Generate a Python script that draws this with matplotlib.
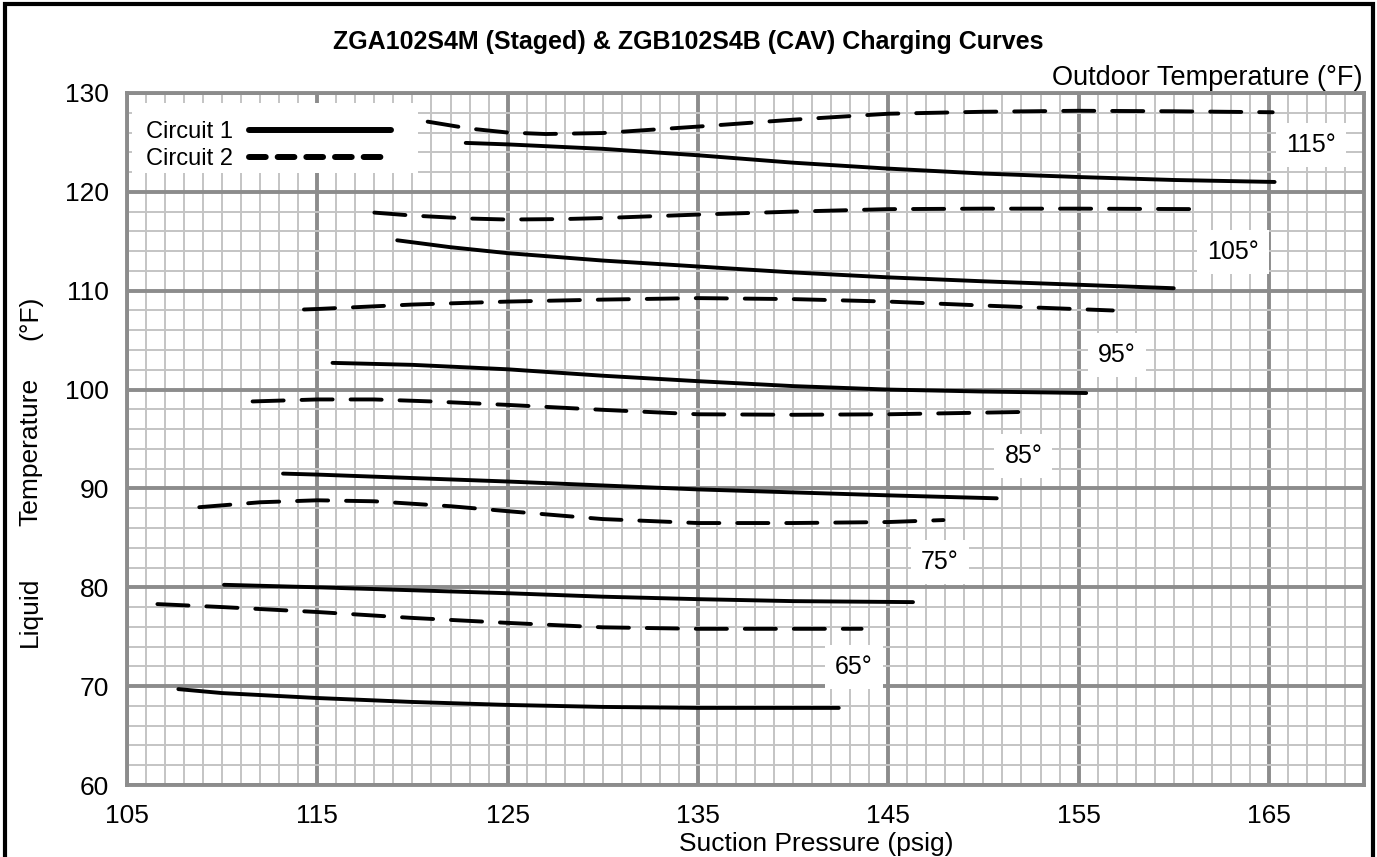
import matplotlib
matplotlib.use('Agg')
import matplotlib.pyplot as plt
from matplotlib.lines import Line2D
from matplotlib.patches import Rectangle
from matplotlib.ticker import MultipleLocator

plt.rcParams['font.family'] = ['Liberation Sans', 'DejaVu Sans']

# values: suction pressure (psig) vs liquid temperature (F)
# circuit 1 (solid)
c1_65_x = [107.7, 110, 115, 120, 125, 130, 135, 142.4]
c1_65_y = [69.7, 69.3, 68.8, 68.4, 68.1, 67.9, 67.8, 67.8]
c1_75_x = [110.1, 115, 120, 125, 130, 135, 140, 146.3]
c1_75_y = [80.25, 80.0, 79.7, 79.4, 79.05, 78.8, 78.6, 78.5]
c1_85_x = [113.2, 115, 120, 125, 130, 135, 140, 145, 150.7]
c1_85_y = [91.5, 91.4, 91.05, 90.7, 90.3, 89.9, 89.6, 89.3, 89.0]
c1_95_x = [115.8, 120, 125, 130, 135, 140, 145, 150, 155.4]
c1_95_y = [102.7, 102.5, 102.05, 101.4, 100.85, 100.35, 100.0, 99.8, 99.65]
c1_105_x = [119.2, 122, 125, 130, 135, 140, 145, 150, 155, 160]
c1_105_y = [115.1, 114.4, 113.8, 113.05, 112.45, 111.85, 111.35, 110.95, 110.6, 110.25]
c1_115_x = [122.8, 125, 130, 135, 140, 145, 150, 155, 160, 165.3]
c1_115_y = [124.95, 124.8, 124.35, 123.7, 122.95, 122.35, 121.85, 121.5, 121.2, 121.0]

# circuit 2 (dashed)
c2_65_x = [106.6, 110, 115, 120, 125, 130, 135, 143.6]
c2_65_y = [78.3, 78.0, 77.5, 76.9, 76.4, 75.95, 75.8, 75.8]
c2_75_x = [108.8, 112, 115, 118, 122, 125, 130, 135, 140, 145, 147.9]
c2_75_y = [88.1, 88.6, 88.8, 88.7, 88.2, 87.7, 86.9, 86.5, 86.5, 86.6, 86.8]
c2_85_x = [111.6, 115, 118, 121, 125, 130, 135, 140, 145, 152.5]
c2_85_y = [98.8, 99.0, 99.0, 98.8, 98.45, 97.95, 97.5, 97.45, 97.5, 97.75]
c2_95_x = [114.3, 115, 120, 125, 130, 135, 140, 145, 150, 156.8]
c2_95_y = [108.1, 108.15, 108.6, 108.9, 109.1, 109.25, 109.15, 108.9, 108.5, 108.0]
c2_105_x = [118, 120, 123, 125, 128, 130, 135, 140, 145, 150, 155, 161.6]
c2_105_y = [117.9, 117.6, 117.3, 117.2, 117.25, 117.35, 117.7, 118.0, 118.25, 118.3, 118.3, 118.25]
c2_115_x = [120.8, 123, 125, 127, 130, 135, 140, 145, 150, 155, 160, 165.2]
c2_115_y = [127.1, 126.4, 126.0, 125.85, 125.95, 126.6, 127.3, 127.9, 128.1, 128.2, 128.15, 128.05]

outdoor_labels = ['65°', '75°', '85°', '95°', '105°', '115°']
x_ticks = [105, 115, 125, 135, 145, 155, 165]
y_ticks = [60, 70, 80, 90, 100, 110, 120, 130]

circuit1 = [(c1_65_x, c1_65_y), (c1_75_x, c1_75_y), (c1_85_x, c1_85_y),
            (c1_95_x, c1_95_y), (c1_105_x, c1_105_y), (c1_115_x, c1_115_y)]
circuit2 = [(c2_65_x, c2_65_y), (c2_75_x, c2_75_y), (c2_85_x, c2_85_y),
            (c2_95_x, c2_95_y), (c2_105_x, c2_105_y), (c2_115_x, c2_115_y)]

# where the outdoor temperature tags sit on the chart
label_pos = [(143.2, 71.9), (147.7, 82.6), (152.1, 93.3),
             (157.0, 103.5), (163.1, 113.9), (167.2, 124.7)]


def main():
  fig = plt.figure(figsize=(13.77, 8.57), dpi=100)
  ax = fig.add_axes([0.0922, 0.084, 0.8984, 0.8075])

  for xs, ys in circuit1:
    ax.plot(xs, ys, color='black', lw=2.8, solid_capstyle='round', solid_joinstyle='round')
  for xs, ys in circuit2:
    ax.plot(xs, ys, color='black', lw=2.8, dashes=(8, 4.6), dash_capstyle='round')

  for lab, (lx, ly) in zip(outdoor_labels, label_pos):
    ax.text(lx, ly, lab, fontsize=18, ha='center', va='center', zorder=4,
            bbox=dict(boxstyle='square,pad=0.4', fc='white', ec='none'))

  ax.set_xlim(105, 170)
  ax.set_ylim(60, 130)
  ax.set_xticks(x_ticks)
  ax.set_yticks(y_ticks)
  ax.xaxis.set_minor_locator(MultipleLocator(1))
  ax.yaxis.set_minor_locator(MultipleLocator(2))
  ax.set_axisbelow(True)
  ax.grid(which='minor', color='#c4c4c4', lw=1.4)
  ax.grid(which='major', color='#8c8c8c', lw=2.8)
  ax.tick_params(which='both', length=0)
  ax.tick_params(axis='x', labelsize=19, pad=14)
  ax.tick_params(axis='y', labelsize=19, pad=13)
  for sp in ax.spines.values():
    sp.set_color('#8c8c8c')
    sp.set_linewidth(2.8)

  # white patch behind the legend, hiding the grid there
  ax.add_patch(Rectangle((0.004, 0.8844), 0.2312, 0.1011, transform=ax.transAxes,
                         fc='white', ec='none', zorder=4))
  handles = [Line2D([], [], color='black', lw=4.3, solid_capstyle='round'),
             Line2D([], [], color='black', lw=4.3, dashes=(2.8, 2), dash_capstyle='round')]
  leg = ax.legend(handles, ['Circuit 1', 'Circuit 2'], loc='upper left',
                  bbox_to_anchor=(0.004, 0.98), borderaxespad=0, markerfirst=False,
                  fontsize=17, handlelength=6.0, handletextpad=0.68, labelspacing=0.22,
                  borderpad=0.6, frameon=False)
  leg.set_zorder(5)

  fig.text(0.5, 0.951, 'ZGA102S4M (Staged) & ZGB102S4B (CAV) Charging Curves',
           fontsize=18, fontweight='bold', ha='center', va='center')
  fig.text(1363 / 1377, 1 - 78 / 857, 'Outdoor Temperature (°F)', fontsize=19.5,
           ha='right', va='center')
  fig.text(816 / 1377, 1 - 844 / 857, 'Suction Pressure (psig)', fontsize=19,
           ha='center', va='center')
  fig.text(30 / 1377, 1 - 612 / 857, 'Liquid', fontsize=19, rotation=90, ha='center', va='center')
  fig.text(30 / 1377, 1 - 452 / 857, 'Temperature', fontsize=19, rotation=90, ha='center', va='center')
  fig.text(30 / 1377, 1 - 318 / 857, '(°F)', fontsize=19, rotation=90, ha='center', va='center')

  # black frame round the whole sheet
  fig.patches.append(Rectangle((5 / 1377, -0.05), 1368 / 1377, 1.05 - 4 / 857,
                               transform=fig.transFigure, fill=False, ec='black', lw=3))

  fig.savefig('out.png', dpi=100)


if __name__ == "__main__":
  main()
